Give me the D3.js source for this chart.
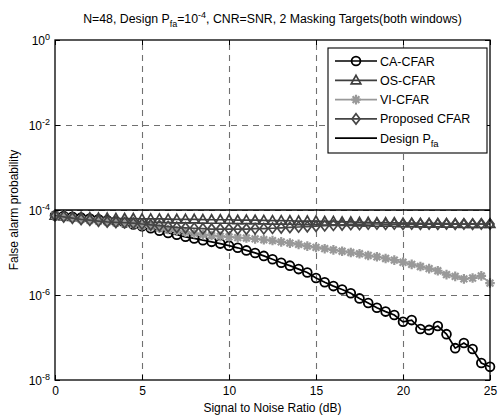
<!DOCTYPE html>
<html><head><meta charset="utf-8">
<script src="https://cdn.jsdelivr.net/npm/d3@7"></script>
<style>body{margin:0;background:#fff} text{font-family:"Liberation Sans",Arial,Helvetica,sans-serif;}</style>
</head><body><svg id="c" width="499" height="416"></svg>
<script>
// ---------- data ----------
const snr = [0,0.5,1,1.5,2,2.5,3,3.5,4,4.5,5,5.5,6,6.5,7,7.5,8,8.5,9,9.5,10,10.5,11,11.5,12,12.5,13,13.5,14,14.5,15,15.5,16,16.5,17,17.5,18,18.5,19,19.5,20,20.5,21,21.5,22,22.5,23,23.5,24,24.5,25];
const caCfar = [7.41e-5,7.24e-5,6.92e-5,6.61e-5,6.31e-5,6.03e-5,5.75e-5,5.37e-5,5.01e-5,4.57e-5,
  4.17e-5,3.72e-5,3.24e-5,2.88e-5,2.63e-5,2.34e-5,2.14e-5,1.95e-5,1.78e-5,1.62e-5,
  1.45e-5,1.29e-5,1.12e-5,9.77e-6,8.32e-6,6.92e-6,5.75e-6,4.90e-6,4.07e-6,3.39e-6,
  2.51e-6,2.00e-6,1.62e-6,1.35e-6,1.10e-6,8.32e-7,6.46e-7,5.01e-7,4.07e-7,3.39e-7,
  2.34e-7,2.57e-7,1.58e-7,1.51e-7,1.86e-7,1.20e-7,5.62e-8,7.41e-8,5.37e-8,2.51e-8,2.04e-8];
const osCfar = [7.41e-5,7.08e-5,6.92e-5,6.76e-5,6.61e-5,6.46e-5,6.46e-5,6.31e-5,6.31e-5,6.31e-5,
  6.17e-5,6.17e-5,6.17e-5,6.10e-5,6.03e-5,6.03e-5,6.03e-5,5.96e-5,5.89e-5,5.89e-5,
  5.89e-5,5.75e-5,5.80e-5,5.75e-5,5.70e-5,5.62e-5,5.62e-5,5.58e-5,5.50e-5,5.50e-5,
  5.50e-5,5.37e-5,5.40e-5,5.25e-5,5.25e-5,5.13e-5,5.13e-5,5.01e-5,5.05e-5,5.01e-5,
  4.90e-5,4.90e-5,4.85e-5,4.79e-5,4.82e-5,4.79e-5,4.75e-5,4.68e-5,4.70e-5,4.68e-5,4.68e-5];
const viCfar = [7.41e-5,6.92e-5,6.46e-5,6.03e-5,5.75e-5,5.50e-5,5.25e-5,5.01e-5,4.79e-5,4.57e-5,
  4.27e-5,3.98e-5,3.72e-5,3.47e-5,3.24e-5,3.02e-5,2.82e-5,2.63e-5,2.51e-5,2.40e-5,
  2.34e-5,2.24e-5,2.19e-5,2.09e-5,2.00e-5,1.91e-5,1.78e-5,1.66e-5,1.55e-5,1.41e-5,
  1.32e-5,1.23e-5,1.15e-5,1.07e-5,1.00e-5,9.33e-6,8.51e-6,7.94e-6,7.24e-6,6.61e-6,
  5.89e-6,5.25e-6,4.68e-6,4.17e-6,3.72e-6,3.02e-6,2.75e-6,2.40e-6,2.51e-6,2.82e-6,1.91e-6];
const proposedCfar = [7.41e-5,6.92e-5,6.46e-5,6.03e-5,5.75e-5,5.50e-5,5.25e-5,5.13e-5,5.01e-5,4.90e-5,
  4.68e-5,4.47e-5,4.27e-5,4.07e-5,3.89e-5,3.80e-5,3.72e-5,3.63e-5,3.55e-5,3.55e-5,
  3.55e-5,3.55e-5,3.55e-5,3.63e-5,3.63e-5,3.72e-5,3.80e-5,3.89e-5,3.98e-5,4.07e-5,
  4.17e-5,4.27e-5,4.37e-5,4.47e-5,4.57e-5,4.57e-5,4.68e-5,4.68e-5,4.62e-5,4.68e-5,
  4.62e-5,4.68e-5,4.65e-5,4.70e-5,4.62e-5,4.68e-5,4.65e-5,4.68e-5,4.62e-5,4.68e-5,4.68e-5];
const designPfa = 1e-4;
const xTicks = [0,5,10,15,20,25];
const yTicks = [1,1e-2,1e-4,1e-6,1e-8];
const yTickExps = ["0","-2","-4","-6","-8"];
const legendNames = ["CA-CFAR","OS-CFAR","VI-CFAR","Proposed CFAR","Design P"];

// ---------- chart ----------
const svg = d3.select("#c");
const L=55,R=490,T=40,B=380;
const x = d3.scaleLinear().domain([0,25]).range([L,R]);
const y = d3.scaleLog().domain([1e-8,1]).range([B,T]);

// grid
const grid = svg.append("g");
grid.append("g").attr("transform",`translate(0,${B})`)
  .call(d3.axisBottom(x).tickValues(xTicks.slice(1,-1)).tickSize(-(B-T)).tickFormat(""))
  .call(g=>g.select(".domain").remove());
grid.append("g").attr("transform",`translate(${L},0)`)
  .call(d3.axisLeft(y).tickValues(yTicks.slice(1,-1)).tickSize(-(R-L)).tickFormat(""))
  .call(g=>g.select(".domain").remove());
grid.selectAll("line").attr("stroke","#707070").attr("stroke-dasharray","6,5").attr("stroke-width",1.1);

// series
const line = d3.line().x(d=>x(d[0])).y(d=>y(d[1]));
const series = [
  {name:"CA",vals:caCfar,color:"#000",marker:"circle",w:1.7},
  {name:"OS",vals:osCfar,color:"#3e3e3e",marker:"triangle",w:1.7},
  {name:"VI",vals:viCfar,color:"#999",marker:"star",w:1.7},
  {name:"P",vals:proposedCfar,color:"#454545",marker:"diamond",w:1.7}
];
function drawMarker(g, type, color){
  if(type==="circle") g.append("circle").attr("r",4.4).attr("fill","none").attr("stroke",color).attr("stroke-width",1.8);
  else if(type==="triangle") g.append("path").attr("d","M0,-5L4.8,3.5L-4.8,3.5Z").attr("fill","none").attr("stroke",color).attr("stroke-width",1.7);
  else if(type==="diamond") g.append("path").attr("d","M0,-5.2L4,0L0,5.2L-4,0Z").attr("fill","none").attr("stroke",color).attr("stroke-width",1.7);
  else if(type==="star") g.append("path").attr("d","M-4.8,0H4.8M0,-4.8V4.8M-3.4,-3.4L3.4,3.4M-3.4,3.4L3.4,-3.4").attr("stroke",color).attr("stroke-width",2.2);
}
series.forEach(s=>{
  const pts = snr.map((v,i)=>[v,s.vals[i]]);
  const g = svg.append("g");
  g.append("path").datum(pts).attr("d",line).attr("fill","none").attr("stroke",s.color).attr("stroke-width",s.w);
  g.selectAll("g.m").data(pts).join("g").attr("class","m")
    .attr("transform",d=>`translate(${x(d[0])},${y(d[1])})`)
    .each(function(){drawMarker(d3.select(this),s.marker,s.color);});
});
svg.append("line").attr("x1",L).attr("x2",R).attr("y1",y(designPfa)).attr("y2",y(designPfa))
  .attr("stroke","#000").attr("stroke-width",1.7);

// axes
const ax = svg.append("g");
ax.append("g").attr("transform",`translate(0,${B})`)
  .call(d3.axisBottom(x).tickValues(xTicks).tickSizeInner(-5).tickSizeOuter(0).tickPadding(6))
  .call(g=>g.selectAll("text").attr("font-size",12).attr("fill","#000"));
ax.append("g").attr("transform",`translate(0,${T})`)
  .call(d3.axisTop(x).tickValues(xTicks).tickSizeInner(-5).tickSizeOuter(0).tickFormat(""));
ax.append("g").attr("transform",`translate(${L},0)`)
  .call(d3.axisLeft(y).tickValues(yTicks).tickSizeInner(-5).tickSizeOuter(0).tickPadding(5))
  .call(g=>g.selectAll(".tick text").each(function(d,i){
    const t=d3.select(this).text(null).attr("font-size",12).attr("fill","#000").attr("dy","0.38em");
    t.append("tspan").text("10");
    t.append("tspan").attr("dy","-0.6em").attr("font-size",9).text(yTickExps[i]);
  }));
ax.append("g").attr("transform",`translate(${R},0)`)
  .call(d3.axisRight(y).tickValues(yTicks).tickSizeInner(-5).tickSizeOuter(0).tickFormat(""));
ax.selectAll(".domain").remove();
ax.selectAll("line").attr("stroke","#000");
svg.append("rect").attr("x",L).attr("y",T).attr("width",R-L).attr("height",B-T)
  .attr("fill","none").attr("stroke","#000").attr("stroke-width",1.3);

// title
const title = svg.append("text").attr("x",(L+R)/2).attr("y",23).attr("text-anchor","middle").attr("font-size",12.3);
title.append("tspan").text("N=48, Design P");
title.append("tspan").attr("dy","4").attr("font-size",9).text("fa");
title.append("tspan").attr("dy","-4").text("=10");
title.append("tspan").attr("dy","-5").attr("font-size",9).text("-4");
title.append("tspan").attr("dy","5").text(", CNR=SNR, 2 Masking Targets(both windows)");

// axis labels
svg.append("text").attr("x",(L+R)/2).attr("y",412).attr("text-anchor","middle").attr("font-size",12)
  .text("Signal to Noise Ratio (dB)");
svg.append("text").attr("transform",`translate(18,${(T+B)/2}) rotate(-90)`).attr("text-anchor","middle").attr("font-size",12)
  .text("False alarm probability");

// legend
const lg = svg.append("g");
lg.append("rect").attr("x",328).attr("y",48).attr("width",159).attr("height",105)
  .attr("fill","#fff").attr("stroke","#000").attr("stroke-width",1.1);
const legendItems = [
  {c:"#000",m:"circle"},{c:"#3e3e3e",m:"triangle"},{c:"#999",m:"star"},{c:"#454545",m:"diamond"},{c:"#000",m:null}
];
legendItems.forEach((it,i)=>{
  const yy = 61 + i*19.3;
  const g = lg.append("g").attr("transform",`translate(0,${yy})`);
  g.append("line").attr("x1",335).attr("x2",377).attr("y1",0).attr("y2",0).attr("stroke",it.c).attr("stroke-width",1.7);
  if(it.m){ const mg=g.append("g").attr("transform","translate(356,0)"); drawMarker(mg,it.m,it.c); }
  const t = g.append("text").attr("x",380).attr("y",4.5).attr("font-size",12.5).text(legendNames[i]);
  if(i===4) t.append("tspan").attr("dy","4").attr("font-size",9.5).text("fa");
});
</script></body></html>
